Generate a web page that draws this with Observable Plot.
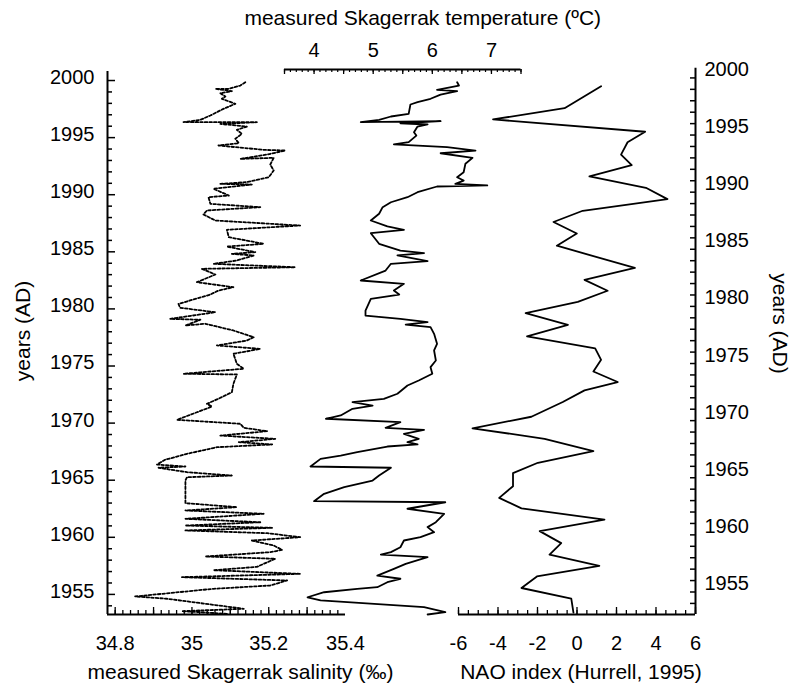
<!DOCTYPE html>
<html>
<head>
<meta charset="utf-8">
<script src="https://cdn.jsdelivr.net/npm/d3@7"></script>
<script src="https://cdn.jsdelivr.net/npm/@observablehq/plot@0.6"></script>
<style>
  body { margin: 0; background: white; }
  #chart { position: relative; width: 791px; height: 683px; background: white; }
  #chart svg { position: absolute; left: 0; top: 0; }
</style>
</head>
<body>
<div id="chart"></div>
<script>
// ---------- data ----------
// salinity (‰), dotted trace
const salYear = [1999.85,1999.56,1999.27,1999.27,1999.07,1998.89,1998.6,1998.4,1997.96,1997.52,1996.94,1996.56,1996.35,1996.35,1996.2,1995.97,1995.68,1995.33,1994.9,1994.51,1994.31,1993.93,1993.87,1993.52,1993.14,1993.23,1992.64,1992.12,1991.53,1991.1,1990.95,1990.89,1990.52,1989.93,1989.78,1989.2,1988.91,1988.62,1988.27,1987.74,1987.3,1986.93,1986.28,1985.7,1985.46,1984.97,1984.82,1984.68,1984.24,1983.95,1983.65,1983.51,1983.01,1982.34,1981.9,1981.61,1981.26,1980.44,1980.1,1979.71,1979.13,1979.05,1978.55,1978.7,1978.11,1977.52,1977.23,1976.8,1976.5,1976.07,1975.19,1974.76,1974.32,1974.26,1973.44,1972.71,1972.13,1971.69,1971.45,1970.95,1970.29,1969.94,1969.59,1969.29,1968.91,1968.62,1968.33,1968.13,1967.89,1967.31,1966.79,1966.37,1966.2,1966.09,1965.7,1965.41,1965.26,1964.97,1962.99,1962.64,1962.35,1962.06,1961.62,1961.32,1961.03,1960.83,1960.6,1960.36,1960.01,1959.72,1959.28,1958.9,1958.7,1958.32,1958.12,1957.41,1957.12,1956.8,1956.51,1956.22,1955.78,1955.49,1954.82,1954.62,1953.74,1953.53,1953.3];
const salValue = [35.139,35.126,35.096,35.061,35.104,35.074,35.087,35.078,35.113,35.082,35.048,35.022,34.978,35.169,35.074,35.143,35.117,35.13,35.113,35.122,35.069,35.187,35.243,35.196,35.126,35.213,35.204,35.213,35.2,35.143,35.074,35.156,35.056,35.096,35.043,35.048,35.178,35.039,35.03,35.061,35.282,35.091,35.096,35.187,35.091,35.165,35.104,35.161,35.117,35.056,35.269,35.026,35.061,35.013,35.108,35.069,35.048,34.965,34.969,35.061,34.943,35.022,34.983,35.035,35.108,35.161,35.143,35.065,35.178,35.108,35.117,35.135,34.978,35.117,35.108,35.104,35.069,35.039,35.052,35.013,34.961,35.126,35.135,35.196,35.074,35.217,35.122,35.209,35.065,34.987,34.93,34.909,34.983,34.913,34.987,35.104,34.987,34.983,34.983,35.117,34.983,35.187,34.983,35.178,34.983,35.209,34.983,35.196,35.282,35.156,35.213,35.235,35.204,35.035,35.217,35.169,35.056,35.282,34.974,35.248,35.204,35.056,34.852,34.935,35.135,34.974,35.091];

// temperature (°C), solid trace
const tempYear = [1999.85,1999.56,1999.18,1999.07,1998.77,1998.4,1998.1,1997.9,1997.08,1996.85,1996.56,1996.35,1996.44,1996.26,1996.15,1995.97,1995.47,1995.18,1994.6,1994.4,1994.16,1993.87,1993.63,1993.23,1992.71,1991.97,1991.53,1991.24,1990.95,1990.81,1990.72,1990.22,1989.78,1989.34,1988.91,1988.33,1987.74,1987.22,1986.93,1986.63,1985.7,1985.11,1984.88,1984.68,1984.18,1983.95,1983.36,1982.49,1982.2,1981.61,1981.26,1980.88,1979.86,1979.42,1979.13,1978.84,1978.63,1978.4,1977.82,1976.94,1976.36,1975.48,1974.9,1974.32,1973.73,1973.29,1972.57,1972.13,1971.83,1971.54,1971.25,1970.67,1970.38,1970.08,1969.59,1969.41,1969.06,1968.62,1968.33,1968.13,1967.95,1967.45,1967.16,1966.87,1966.2,1966.09,1965.41,1964.97,1964.39,1963.81,1963.16,1963.07,1962.5,1962.06,1961.32,1960.89,1960.45,1960.01,1959.72,1959.13,1958.7,1958.49,1958.26,1957.68,1957.24,1956.65,1956.37,1956.07,1955.63,1955.49,1955.19,1954.75,1954.47,1953.88,1953.44,1953.24];
const tempValue = [6.42,6.45,6.08,6.42,6.14,5.97,5.75,5.63,5.6,5.3,5.1,4.79,6.14,5.46,5.92,5.75,5.69,5.73,5.6,5.35,6.25,6.73,6.14,6.68,6.56,6.53,6.42,6.53,6.39,6.93,6.08,5.75,5.58,5.3,5.16,5.1,4.96,5.24,5.52,4.96,5.1,5.46,5.86,5.41,5.92,5.3,5.21,4.79,5.52,5.35,5.44,4.96,4.87,4.87,5.46,5.92,5.55,5.97,6.03,6.08,6.03,6.06,5.97,6.0,5.77,5.58,5.41,5.18,4.65,4.99,4.65,4.45,4.2,5.46,5.21,5.86,5.52,5.77,5.58,5.75,5.24,4.73,4.45,4.11,3.94,5.3,5.1,4.99,4.51,4.17,4.0,6.22,5.58,6.2,6.06,5.92,6.03,5.8,5.52,5.46,5.3,5.13,5.92,5.55,5.35,5.07,5.46,5.24,5.07,4.73,4.17,3.89,4.11,5.86,6.22,5.92];

// NAO index (Hurrell, 1995), plotted against the right-hand year axis
const naoYear = [1998.28,1996.35,1995.37,1994.29,1993.37,1992.29,1991.37,1990.38,1989.38,1988.39,1987.37,1986.39,1985.38,1984.31,1982.37,1981.32,1980.37,1979.39,1978.41,1977.39,1976.38,1975.33,1974.32,1973.30,1972.38,1971.65,1970.63,1969.34,1968.33,1967.41,1966.33,1965.31,1964.40,1963.26,1962.24,1961.32,1960.34,1959.33,1958.28,1957.27,1956.29,1955.36,1954.35,1953.42,1952.2];
const naoValue = [1.22,-0.63,-4.25,3.45,2.56,2.23,2.77,0.63,3.49,4.58,0.29,-1.19,-0.01,-1.02,2.93,0.38,1.55,0.04,-2.60,-0.46,-2.53,0.92,1.22,0.83,2.06,0.38,-0.72,-2.31,-5.29,-1.64,0.83,-1.98,-3.24,-3.24,-3.94,-2.81,1.39,-1.89,-0.80,-1.39,1.13,-2.03,-2.81,-0.29,-0.18];

// tick labels
const yearLabels = [1955, 1960, 1965, 1970, 1975, 1980, 1985, 1990, 1995, 2000];
const salLabels = [34.8, 35, 35.2, 35.4];
const tempLabels = [4, 5, 6, 7];
const naoLabels = [-6, -4, -2, 0, 2, 4, 6];

// titles
const titleTemp = "measured Skagerrak temperature (ºC)";
const titleSal = "measured Skagerrak salinity (‰)";
const titleNao = "NAO index (Hurrell, 1995)";
const titleYears = "years (AD)";

// ---------- layout ----------
const W = 791, H = 683;
const font = "'Liberation Sans', Arial, Helvetica, sans-serif";
const baseStyle = {fontFamily: font, fontSize: "20px", color: "black", background: "transparent", overflow: "visible"};
const range = (a, b, s) => d3.range(Math.round(a / s), Math.round(b / s) + 1).map(k => +(k * s).toFixed(4));

const sal = salYear.map((y, i) => ({y, v: salValue[i]}));
const temp = tempYear.map((y, i) => ({y, v: tempValue[i]}));
const nao = naoYear.map((y, i) => ({y, v: naoValue[i]}));

const yLeft = [1953.24, 2000.79];
const yRight = [1952.03, 2000];

// Plot 1: salinity, left year axis, bottom salinity axis
const p1L = 107, p1R = W - 345, p1T = 71, p1B = 69;
const p1W = W - p1L - p1R, p1H = H - p1T - p1B;
const yearsLeft = d3.range(1954, 2001);
const plot1 = Plot.plot({
  width: W, height: H,
  marginLeft: p1L, marginRight: p1R, marginTop: p1T, marginBottom: p1B,
  style: baseStyle,
  x: {domain: [34.78, 35.4]},
  y: {domain: yLeft},
  marks: [
    Plot.line(sal, {x: "v", y: "y", stroke: "black", strokeWidth: 1.8, strokeDasharray: "2.6,2"}),
    Plot.ruleX([34.78], {stroke: "black", strokeWidth: 2}),
    Plot.ruleY([yLeft[0]], {stroke: "black", strokeWidth: 2}),
    Plot.tickY(yearsLeft.filter(d => d % 5 !== 0), {y: d => d, stroke: "black", strokeWidth: 1.5, insetRight: p1W - 5}),
    Plot.tickY(yearLabels, {y: d => d, stroke: "black", strokeWidth: 1.5, insetRight: p1W - 8}),
    Plot.tickX(range(34.8, 35.38, 0.02), {x: d => d, stroke: "black", strokeWidth: 1.3, insetTop: p1H - 4}),
    Plot.tickX(range(34.8, 35.3, 0.1), {x: d => d, stroke: "black", strokeWidth: 1.3, insetTop: p1H - 7}),
    Plot.axisY({ticks: yearLabels, tickSize: 0, tickPadding: 13, tickFormat: d => String(d), label: null, dy: -3}),
    Plot.axisX({ticks: salLabels, tickSize: 0, tickPadding: 21, tickFormat: d => String(d), label: null}),
    Plot.text([titleSal], {frameAnchor: "bottom", lineAnchor: "middle", dx: 14, dy: 58, fontSize: 21, textAnchor: "middle", fill: "black"}),
    Plot.text([titleYears], {frameAnchor: "left", lineAnchor: "middle", dx: -84, dy: -12, rotate: -90, fontSize: 21, textAnchor: "middle", fill: "black"})
  ]
});

// Plot 2: temperature, top axis
const p2L = 284, p2R = W - 520.5, p2T = p1T, p2B = p1B;
const p2H = H - p2T - p2B;
const plot2 = Plot.plot({
  width: W, height: H,
  marginLeft: p2L, marginRight: p2R, marginTop: p2T, marginBottom: p2B,
  style: baseStyle,
  x: {domain: [3.5, 7.5]},
  y: {domain: yLeft, axis: null},
  marks: [
    Plot.line(temp, {x: "v", y: "y", stroke: "black", strokeWidth: 1.8}),
    Plot.ruleY([yLeft[1]], {stroke: "black", strokeWidth: 1.8, dy: -2}),
    Plot.tickX(range(3.5, 7.5, 0.1), {x: d => d, stroke: "black", strokeWidth: 1.2, insetBottom: p2H - 3, dy: -2}),
    Plot.tickX(range(3.5, 7.5, 0.5), {x: d => d, stroke: "black", strokeWidth: 1.3, insetBottom: p2H - 5, dy: -2}),
    Plot.axisX({anchor: "top", ticks: tempLabels, tickSize: 0, tickPadding: 15, tickFormat: d => String(d), label: null}),
    Plot.text([titleTemp], {frameAnchor: "top", lineAnchor: "middle", dx: 20, dy: -53, fontSize: 21, textAnchor: "middle", fill: "black"})
  ]
});

// Plot 3: NAO, bottom axis and right year axis
const p3L = 458, p3R = W - 695, p3T = 66, p3B = 69;
const p3W = W - p3L - p3R, p3H = H - p3T - p3B;
const yearsRight = d3.range(1953, 2000);
const plot3 = Plot.plot({
  width: W, height: H,
  marginLeft: p3L, marginRight: p3R, marginTop: p3T, marginBottom: p3B,
  style: baseStyle,
  x: {domain: [-6, 6]},
  y: {domain: yRight},
  marks: [
    Plot.line(nao, {x: "v", y: "y", stroke: "black", strokeWidth: 1.8}),
    Plot.ruleX([6], {stroke: "black", strokeWidth: 2, y1: 1999.84, y2: yRight[0]}),
    Plot.ruleY([yRight[0]], {stroke: "black", strokeWidth: 2}),
    Plot.tickY(yearsRight, {y: d => d, stroke: "black", strokeWidth: 1.5, insetLeft: p3W - 5}),
    Plot.tickX(range(-6, 6, 0.5), {x: d => d, stroke: "black", strokeWidth: 1.3, insetTop: p3H - 4}),
    Plot.tickX(range(-6, 6, 2), {x: d => d, stroke: "black", strokeWidth: 1.3, insetTop: p3H - 7}),
    Plot.axisY({anchor: "right", ticks: yearLabels, tickSize: 0, tickPadding: 9, tickFormat: d => String(d), label: null, dy: 3}),
    Plot.axisX({ticks: naoLabels, tickSize: 0, tickPadding: 21, tickFormat: d => String(d), label: null}),
    Plot.text([titleNao], {frameAnchor: "bottom", lineAnchor: "middle", dx: 4, dy: 58, fontSize: 21, textAnchor: "middle", fill: "black"}),
    Plot.text([titleYears], {frameAnchor: "right", lineAnchor: "middle", dx: 84, dy: -17, rotate: 90, fontSize: 21, textAnchor: "middle", fill: "black"})
  ]
});

const chart = document.getElementById("chart");
chart.append(plot1, plot2, plot3);
</script>
</body>
</html>
